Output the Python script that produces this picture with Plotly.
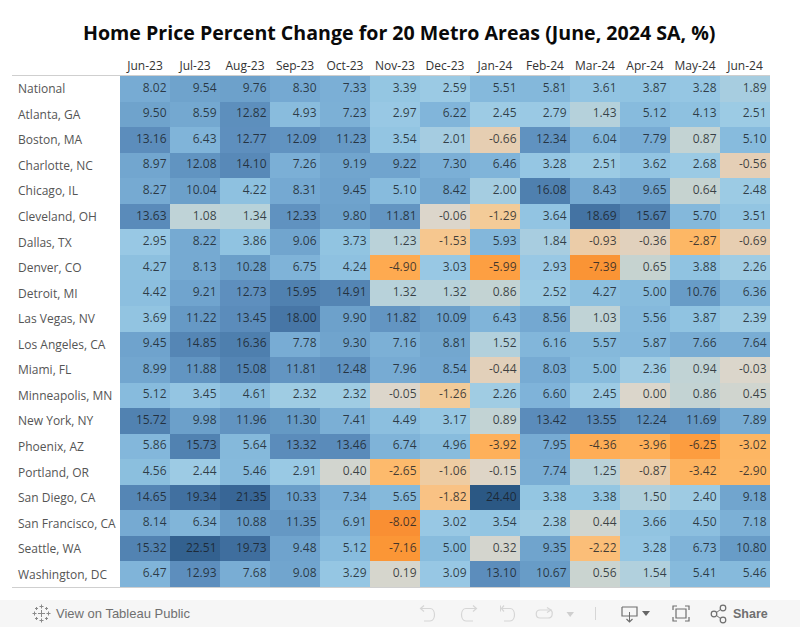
import plotly.graph_objects as go

W, H = 800, 627
months = ["Jun-23","Jul-23","Aug-23","Sep-23","Oct-23","Nov-23","Dec-23","Jan-24","Feb-24","Mar-24","Apr-24","May-24","Jun-24"]
metros = ["National","Atlanta, GA","Boston, MA","Charlotte, NC","Chicago, IL","Cleveland, OH","Dallas, TX","Denver, CO","Detroit, MI","Las Vegas, NV","Los Angeles, CA","Miami, FL","Minneapolis, MN","New York, NY","Phoenix, AZ","Portland, OR","San Diego, CA","San Francisco, CA","Seattle, WA","Washington, DC"]

national = [8.02,9.54,9.76,8.30,7.33,3.39,2.59,5.51,5.81,3.61,3.87,3.28,1.89]
atlanta = [9.50,8.59,12.82,4.93,7.23,2.97,6.22,2.45,2.79,1.43,5.12,4.13,2.51]
boston = [13.16,6.43,12.77,12.09,11.23,3.54,2.01,-0.66,12.34,6.04,7.79,0.87,5.10]
charlotte = [8.97,12.08,14.10,7.26,9.19,9.22,7.30,6.46,3.28,2.51,3.62,2.68,-0.56]
chicago = [8.27,10.04,4.22,8.31,9.45,5.10,8.42,2.00,16.08,8.43,9.65,0.64,2.48]
cleveland = [13.63,1.08,1.34,12.33,9.80,11.81,-0.06,-1.29,3.64,18.69,15.67,5.70,3.51]
dallas = [2.95,8.22,3.86,9.06,3.73,1.23,-1.53,5.93,1.84,-0.93,-0.36,-2.87,-0.69]
denver = [4.27,8.13,10.28,6.75,4.24,-4.90,3.03,-5.99,2.93,-7.39,0.65,3.88,2.26]
detroit = [4.42,9.21,12.73,15.95,14.91,1.32,1.32,0.86,2.52,4.27,5.00,10.76,6.36]
las_vegas = [3.69,11.22,13.45,18.00,9.90,11.82,10.09,6.43,8.56,1.03,5.56,3.87,2.39]
los_angeles = [9.45,14.85,16.36,7.78,9.30,7.16,8.81,1.52,6.16,5.57,5.87,7.66,7.64]
miami = [8.99,11.88,15.08,11.81,12.48,7.96,8.54,-0.44,8.03,5.00,2.36,0.94,-0.03]
minneapolis = [5.12,3.45,4.61,2.32,2.32,-0.05,-1.26,2.26,6.60,2.45,0.00,0.86,0.45]
new_york = [15.72,9.98,11.96,11.30,7.41,4.49,3.17,0.89,13.42,13.55,12.24,11.69,7.89]
phoenix = [5.86,15.73,5.64,13.32,13.46,6.74,4.96,-3.92,7.95,-4.36,-3.96,-6.25,-3.02]
portland = [4.56,2.44,5.46,2.91,0.40,-2.65,-1.06,-0.15,7.74,1.25,-0.87,-3.42,-2.90]
san_diego = [14.65,19.34,21.35,10.33,7.34,5.65,-1.82,24.40,3.38,3.38,1.50,2.40,9.18]
san_francisco = [8.14,6.34,10.88,11.35,6.91,-8.02,3.02,3.54,2.38,0.44,3.66,4.50,7.18]
seattle = [15.32,22.51,19.73,9.48,5.12,-7.16,5.00,0.32,9.35,-2.22,3.28,6.73,10.80]
washington = [6.47,12.93,7.68,9.08,3.29,0.19,3.09,13.10,10.67,0.56,1.54,5.41,5.46]

values = [national,atlanta,boston,charlotte,chicago,cleveland,dallas,denver,detroit,las_vegas,
          los_angeles,miami,minneapolis,new_york,phoenix,portland,san_diego,san_francisco,seattle,washington]

FONT = "Open Sans"
UI_FONT = "Liberation Sans"
TITLE = "Home Price Percent Change for 20 Metro Areas (June, 2024 SA, %)"
TXT = "rgba(25,30,38,0.82)"

vmin, vmax = -8.02, 24.40
stops = [(-8.02,"#f98f33"),(-7.16,"#fb9636"),(-5.99,"#fd9f42"),(-4.9,"#feaa50"),(-2.87,"#fdb765"),
         (-2.65,"#fdba6c"),(-1.82,"#f9c284"),(-1.29,"#f3cb98"),(-0.93,"#ebcca8"),(-0.36,"#e1d1bd"),
         (-0.06,"#dcd6cb"),(0.19,"#d6d6cd"),(0.4,"#d2d5cf"),(0.65,"#c6d3d0"),(1.03,"#c0d3d6"),
         (1.32,"#b8d2da"),(1.84,"#a8cde0"),(2.5,"#9ccbe4"),(3.0,"#98c8e4"),(3.5,"#93c5e2"),
         (5.0,"#88bcdd"),(6.5,"#80b4d9"),(8.0,"#77abd3"),(10.76,"#689cc7"),(13.1,"#5c8dbc"),
         (15.67,"#5182b1"),(18.69,"#4473a3"),(21.35,"#386696"),(24.40,"#2b5884")]
colorscale = [[(v - vmin) / (vmax - vmin), c] for v, c in stops]

PX = lambda x: x / W
PY = lambda y: 1 - y / H
L, R, T, B = 120, 770, 76, 587

xs = list(range(len(months)))
ys = list(range(len(metros)))

fig = go.Figure()
fig.add_trace(go.Heatmap(z=values, x=xs, y=ys, colorscale=colorscale, zmin=vmin, zmax=vmax,
                         showscale=False, xgap=0, ygap=0, hoverongaps=False,
                         customdata=[[m for _ in months] for m in metros],
                         hovertemplate="%{customdata}<br>%{x}: %{z:.2f}<extra></extra>"))

tx, ty, tt = [], [], []
for r, row in enumerate(values):
    for c, v in enumerate(row):
        tx.append(c + 0.43); ty.append(r); tt.append(f"{v:.2f}")
fig.add_trace(go.Scatter(x=tx, y=ty, text=tt, mode="text", textposition="middle left",
                         textfont=dict(family=FONT, size=12, color=TXT), hoverinfo="skip"))

annotations = [dict(text=f"<b>{TITLE}</b>", xref="paper", yref="paper", x=PX(399.5), y=PY(32), showarrow=False,
                    xanchor="center", yanchor="middle", font=dict(family=FONT, size=19.6, color="#0a0a0a"))]
for r, m in enumerate(metros):
    annotations.append(dict(text=m, xref="paper", yref="y", x=PX(15.5), y=r, showarrow=False, xanchor="left",
                            yanchor="middle", font=dict(family=FONT, size=12, color="#555555")))
annotations.append(dict(text="View on Tableau Public", xref="paper", yref="paper", x=PX(54), y=PY(613.5), showarrow=False,
                        xanchor="left", yanchor="middle", font=dict(family=UI_FONT, size=13, color="#707070")))
annotations.append(dict(text="<b>Share</b>", xref="paper", yref="paper", x=PX(731), y=PY(613.5), showarrow=False,
                        xanchor="left", yanchor="middle", font=dict(family=UI_FONT, size=12.5, color="#707070")))

def P(x, y):
    return f"{PX(x):.5f},{PY(y):.5f}"

def path(points, close=False):
    s = "M " + " L ".join(P(x, y) for x, y in points)
    return s + (" Z" if close else "")

def line(x0, y0, x1, y1, color, w=1):
    return dict(type="line", xref="paper", yref="paper", x0=PX(x0), y0=PY(y0), x1=PX(x1), y1=PY(y1),
                line=dict(color=color, width=w), layer="above")

def poly(points, color=None, fill=None, w=1.2):
    return dict(type="path", xref="paper", yref="paper", path=path(points, fill is not None),
                line=dict(color=color or "rgba(0,0,0,0)", width=w), fillcolor=fill or "rgba(0,0,0,0)", layer="above")

def svg(d, color, w=1.2):
    return dict(type="path", xref="paper", yref="paper", path=d, line=dict(color=color, width=w), layer="above")

def circle(cx, cy, r, color):
    return dict(type="circle", xref="paper", yref="paper", x0=PX(cx-r), x1=PX(cx+r), y0=PY(cy+r), y1=PY(cy-r),
                line=dict(color=color, width=1.2), layer="above")

def undo(x_start, x_far, x_end, sign=1):
    return (f"M {P(x_start,608.5)} L {P(x_far-6*sign,608.5)} "
            f"C {P(x_far,608.5)} {P(x_far,621)} {P(x_far-6*sign,621)} L {P(x_end,621)}")

G1, G2 = "#d6d6d6", "#6e6e6e"
shapes = [
    dict(type="rect", xref="paper", yref="paper", x0=0, x1=1, y0=PY(627), y1=PY(600), fillcolor="#f6f6f6",
         line=dict(width=0), layer="below"),
    line(12, 75.5, 770, 75.5, "#cfcfcf", 1),
    line(12, 587.5, 770, 587.5, "#cfcfcf", 1),
]
for cx, cy, a in [(41.5, 613.5, 3.5), (34.5, 613.5, 2), (48.5, 613.5, 2), (41.5, 606.5, 2), (41.5, 620.5, 2),
                  (36.5, 608.5, 1.5), (46.5, 608.5, 1.5), (36.5, 618.5, 1.5), (46.5, 618.5, 1.5)]:
    shapes.append(line(cx - a, cy, cx + a, cy, "#8a8a8a", 1))
    shapes.append(line(cx, cy - a, cx, cy + a, "#8a8a8a", 1))
shapes += [
    svg(undo(421, 436, 424, 1), G1), poly([(424, 605.5), (420.5, 608.5), (424, 611.5)], G1),
    svg(undo(476, 460, 473, -1), G1), poly([(473, 605.5), (476.5, 608.5), (473, 611.5)], G1),
    svg(undo(502, 516, 504, 1), G1), line(500.5, 605.5, 500.5, 611.5, G1),
    poly([(504, 605.5), (501.5, 608.5), (504, 611.5)], G1),
    svg(f"M {P(551,610)} L {P(540,610)} C {P(535,610)} {P(535,618)} {P(540,618)} L {P(548,618)} "
        f"C {P(553,618)} {P(553,612)} {P(551,610)}", G1),
    poly([(547, 607.5), (551, 610), (547, 612.5)], G1),
    poly([(566.5, 612), (574, 612), (570.2, 617)], fill="#cfcfcf"),
    line(595.5, 607, 595.5, 620, G1),
    poly([(622, 607), (637, 607), (637, 616), (622, 616), (622, 607)], G2),
    line(629.5, 612, 629.5, 622, G2),
    poly([(626.5, 619), (629.5, 622), (632.5, 619)], G2),
    poly([(642, 611), (650, 611), (646, 616)], fill="#666666"),
    poly([(673, 610), (673, 606), (677, 606)], G2), poly([(685, 606), (689, 606), (689, 610)], G2),
    poly([(673, 617), (673, 621), (677, 621)], G2), poly([(685, 621), (689, 621), (689, 617)], G2),
    dict(type="rect", xref="paper", yref="paper", x0=PX(676), x1=PX(686), y0=PY(618), y1=PY(609),
         line=dict(color=G2, width=1.2), layer="above"),
    circle(714, 614, 2.8, G2), circle(723, 608, 2.8, G2), circle(723, 620, 2.8, G2),
    line(716.5, 612.5, 720.5, 609.5, G2), line(716.5, 615.5, 720.5, 618.5, G2),
]

fig.update_layout(
    width=W, height=H, margin=dict(l=0, r=0, t=0, b=0), paper_bgcolor="white", plot_bgcolor="white",
    showlegend=False, shapes=shapes, annotations=annotations,
    xaxis=dict(domain=[PX(L), PX(R)], range=[-0.5, 12.5], side="top", tickmode="array", tickvals=xs, ticktext=months,
               showgrid=False, zeroline=False, ticks="", showline=False, fixedrange=True, anchor="y",
               ticklabelstandoff=3, tickfont=dict(family=FONT, size=12, color="#333333")),
    yaxis=dict(domain=[PY(B), PY(T)], range=[19.5, -0.5], showticklabels=False, showgrid=False, zeroline=False,
               ticks="", showline=False, fixedrange=True, anchor="x"),
)
fig.write_html("out.html", config={"displayModeBar": False},
               post_script="document.body.style.margin='0';document.body.style.overflow='hidden';")
